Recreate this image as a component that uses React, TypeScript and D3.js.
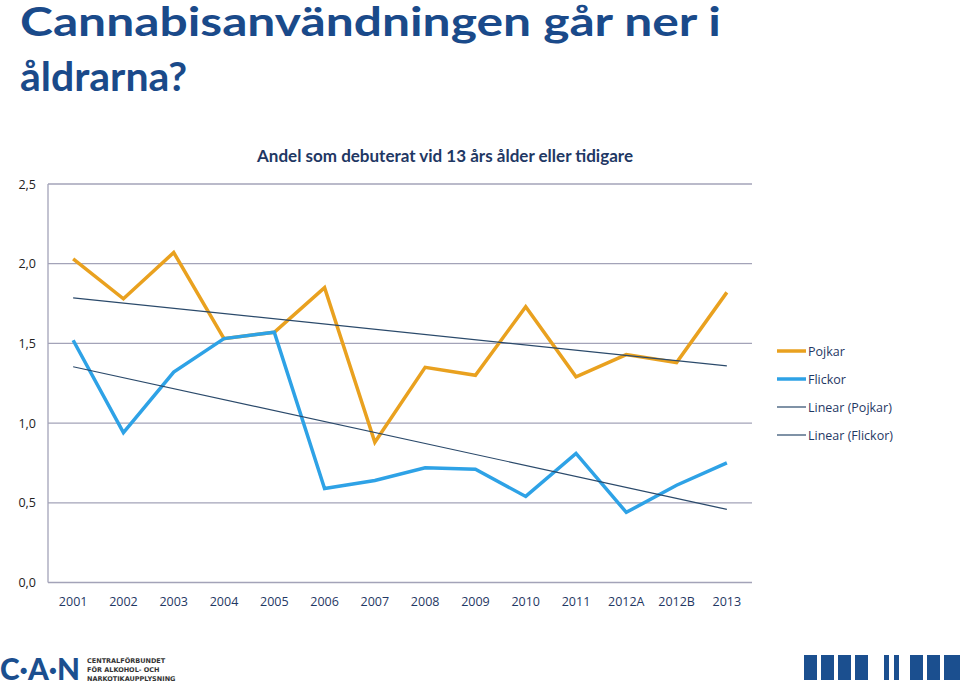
import React from "react";
import * as d3 from "d3";

const categories = ["2001","2002","2003","2004","2005","2006","2007","2008","2009","2010","2011","2012A","2012B","2013"];
const pojkar = [2.03,1.78,2.07,1.53,1.57,1.85,0.88,1.35,1.30,1.73,1.29,1.43,1.38,1.82];
const flickor = [1.52,0.94,1.32,1.53,1.57,0.59,0.64,0.72,0.71,0.54,0.81,0.44,0.61,0.75];
const yTicks = [0,0.5,1.0,1.5,2.0,2.5];
const seriesNames = ["Pojkar","Flickor","Linear (Pojkar)","Linear (Flickor)"];

const W = 960, H = 685;
const left = 48, right = 752, top = 184, bottom = 582.5;
const orange = "#E9A11F";
const blue = "#2EA2E6";
const navy = "#1F3864";
const trendColor = "#2B4A6B";
const titleBlue = "#1A4A8A";

function trend(vals: number[]) {
  const n = vals.length;
  const xs = vals.map((_, i) => i);
  const mx = d3.mean(xs)!, my = d3.mean(vals)!;
  const b = d3.sum(xs.map((x, i) => (x - mx) * (vals[i] - my))) / d3.sum(xs.map(x => (x - mx) ** 2));
  const a = my - b * mx;
  return [a, a + b * (n - 1)];
}

export default function App() {
  const x = d3.scaleBand().domain(categories).range([left, right]).padding(0);
  const y = d3.scaleLinear().domain([0, 2.5]).range([bottom, top]);
  const cx = (c: string) => x(c)! + x.bandwidth() / 2;
  const line = d3.line<number>().x((_, i) => cx(categories[i])).y(d => y(d));
  const tp = trend(pojkar), tf = trend(flickor);
  const first = categories[0], last = categories[categories.length - 1];
  const font = "'Open Sans', sans-serif";

  const legendItems = [
    { name: seriesNames[0], color: orange, w: 3.5 },
    { name: seriesNames[1], color: blue, w: 3.5 },
    { name: seriesNames[2], color: trendColor, w: 1.2 },
    { name: seriesNames[3], color: trendColor, w: 1.2 },
  ];

  const logoBars = [[804,13],[821,13],[838,13],[855,13],[884,5],[894,5],[910,13],[927,13],[944,16]];

  return (
    <svg width={W} height={H} style={{ position: "absolute", left: 0, top: 0, background: "#fff" }} fontFamily={font}>
      <text x={20} y={36} fontFamily="Lato, sans-serif" fontWeight={700} fontSize={41} fill={titleBlue} textLength={701} lengthAdjust="spacingAndGlyphs">Cannabisanvändningen går ner i</text>
      <text x={20} y={91} fontFamily="Lato, sans-serif" fontWeight={700} fontSize={41} fill={titleBlue}>åldrarna?</text>

      <text x={445} y={162} textAnchor="middle" fontWeight={700} fontSize={17} fill={navy} fontFamily="Lato, sans-serif" textLength={376} lengthAdjust="spacingAndGlyphs">Andel som debuterat vid 13 års ålder eller tidigare</text>

      {yTicks.map(t => (
        <g key={t}>
          <line x1={left} x2={right} y1={y(t)} y2={y(t)} stroke="#A3A3B8" strokeWidth={1.3} />
          <text x={36} y={y(t) + 4.5} textAnchor="end" fontSize={12.5} fill="#222">{d3.format(".1f")(t).replace(".", ",")}</text>
        </g>
      ))}
      <line x1={left} x2={left} y1={top} y2={bottom} stroke="#A3A3B8" strokeWidth={1.3} />

      {categories.map(c => (
        <text key={c} x={cx(c)} y={606} textAnchor="middle" fontSize={12.5} fill={navy}>{c}</text>
      ))}

      <path d={line(pojkar)!} fill="none" stroke={orange} strokeWidth={3.5} strokeLinejoin="miter" />
      <path d={line(flickor)!} fill="none" stroke={blue} strokeWidth={3.5} strokeLinejoin="miter" />
      <line x1={cx(first)} x2={cx(last)} y1={y(tp[0])} y2={y(tp[1])} stroke={trendColor} strokeWidth={1.2} />
      <line x1={cx(first)} x2={cx(last)} y1={y(tf[0])} y2={y(tf[1])} stroke={trendColor} strokeWidth={1.2} />

      {legendItems.map((it, i) => (
        <g key={it.name} transform={`translate(777, ${351 + i * 28})`}>
          <line x1={0} x2={29} y1={0} y2={0} stroke={it.color} strokeWidth={it.w} />
          <text x={31} y={4.5} fontSize={12.5} fill={navy}>{it.name}</text>
        </g>
      ))}

      <g fill="#1B4F8F">
        <text x={0} y={680} fontFamily="Lato, sans-serif" fontWeight={900} fontSize={30} textLength={80} lengthAdjust="spacingAndGlyphs">C·A·N</text>
        <text x={87} y={663} fontFamily="'DejaVu Sans', sans-serif" fontWeight={700} fontSize={6.5} fill="#333">CENTRALFÖRBUNDET</text>
        <text x={87} y={672} fontFamily="'DejaVu Sans', sans-serif" fontWeight={700} fontSize={6.5} fill="#333">FÖR ALKOHOL- OCH</text>
        <text x={87} y={681} fontFamily="'DejaVu Sans', sans-serif" fontWeight={700} fontSize={6.5} fill="#333">NARKOTIKAUPPLYSNING</text>
        {logoBars.map(([bx, bw], i) => (
          <rect key={i} x={bx} y={655} width={bw} height={25} fill="#1B4F8F" />
        ))}
      </g>
    </svg>
  );
}
